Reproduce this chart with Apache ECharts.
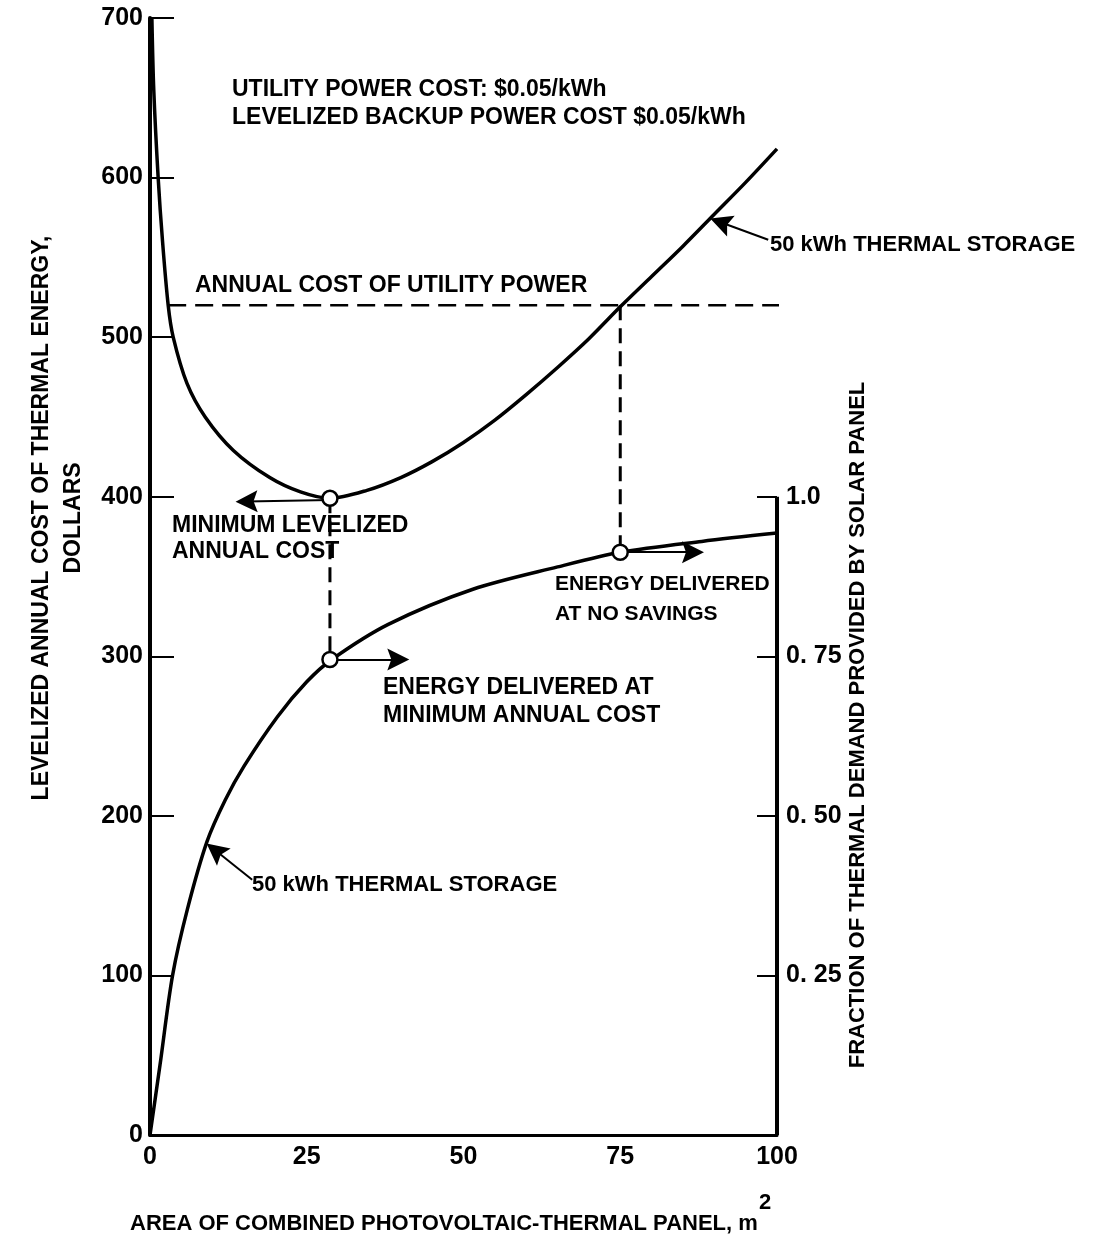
<!DOCTYPE html>
<html>
<head>
<meta charset="utf-8">
<script src="https://cdn.jsdelivr.net/npm/echarts@6/dist/echarts.min.js"></script>
<style>
  html, body { margin: 0; background: #fff; }
  #chart { width: 1099px; height: 1246px; }
</style>
</head>
<body>
<div id="chart"></div>
<script>
// axes
const areaMin = 0, areaMax = 100, areaStep = 25
const costMax = 700, costStep = 100
const fracMax = 1.75
const fracTicks = [0.25, 0.5, 0.75, 1.0]
const fracTickLabels = ['0. 25', '0. 50', '0. 75', '1.0']

// levelized annual cost, 50 kWh thermal storage (dollars vs m2)
const costArea  = [0.3, 0.6, 1.3, 2.0, 2.9, 3.7, 5.9, 8.8, 13.3, 19.1, 24, 28.7, 34.6, 40, 45, 50, 55, 60, 65, 70, 75, 80, 85, 90, 95, 100]
const costValue = [700, 655, 600, 560, 520, 500, 471, 450, 429, 412, 403, 399, 404, 412, 422, 434, 448, 464, 481, 499, 519, 538, 557, 577, 597, 618]

// fraction of thermal demand provided by solar panel
const fracArea  = [0, 1.6, 3.6, 6, 9.1, 12, 15, 20.3, 25, 29, 38, 51.5, 65, 75, 88, 100]
const fracValue = [0, 0.11, 0.25, 0.355, 0.46, 0.525, 0.578, 0.655, 0.71, 0.745, 0.80, 0.855, 0.89, 0.913, 0.93, 0.943]

// annotations
const utilityCost = 520
const utilityFrom = 2.9, utilityTo = 129
const minArea = 28.7, minCost = 399, minFrac = 0.745
const noSaveArea = 75, noSaveFrac = 0.913

// arrows [from, to]
const costArrows = [
  [[minArea, 398], [15.4, 397]],
  [[98.6, 561], [91.0, 572]]
]
const fracArrows = [
  [[minArea, minFrac], [39.6, minFrac]],
  [[noSaveArea, noSaveFrac], [86.6, noSaveFrac]],
  [[16.3, 0.40], [10.4, 0.446]]
]

const zip = (a, b) => a.map((v, i) => [v, b[i]])
const toCost = f => f * costMax / fracMax

const black = '#000'
const tickFont = { fontFamily: 'Liberation Sans', fontWeight: 'bold', fontSize: 25, color: black }
const font = size => `bold ${size}px "Liberation Sans"`
const arrowHead = 'path://M4,0L8,22L4,18L0,22Z'

const note = (text, x, y, size = 23) => ({
  type: 'text', x, y,
  style: { text, font: font(size), fill: black, textAlign: 'left', textVerticalAlign: 'middle' }
})

const dashed = (data, yAxisIndex, dash, width) => ({
  type: 'line', data, yAxisIndex, symbol: 'none', clip: false, silent: true,
  lineStyle: { color: black, width, type: dash }, z: 3
})

const option = {
  backgroundColor: '#fff',
  animation: false,
  grid: { left: 150, right: 322, top: 18, bottom: 111 },
  xAxis: {
    type: 'value', min: areaMin, max: areaMax, interval: areaStep,
    axisLine: { lineStyle: { color: black, width: 3 } },
    axisTick: { show: false },
    splitLine: { show: false },
    axisLabel: { ...tickFont, margin: 10 }
  },
  yAxis: [
    {
      type: 'value', min: 0, max: costMax, interval: costStep,
      axisLine: { show: true, lineStyle: { color: black, width: 4 } },
      axisTick: { show: true, inside: true, length: 24, lineStyle: { color: black, width: 2 } },
      splitLine: { show: false },
      axisLabel: { ...tickFont, margin: 7 }
    },
    {
      type: 'value', position: 'right', min: 0, max: fracMax, interval: 0.25,
      axisLine: { show: false },
      axisTick: { show: true, inside: true, length: 20, customValues: fracTicks, lineStyle: { color: black, width: 2 } },
      splitLine: { show: false },
      axisLabel: {
        ...tickFont, margin: 9, customValues: fracTicks,
        formatter: v => {
          const i = fracTicks.findIndex(t => Math.abs(t - v) < 1e-6)
          return i < 0 ? '' : fracTickLabels[i]
        }
      }
    }
  ],
  series: [
    {
      type: 'line', data: zip(costArea, costValue), yAxisIndex: 0, smooth: 0.3,
      symbol: 'none', lineStyle: { color: black, width: 3.5 }, z: 4
    },
    {
      type: 'line', data: zip(fracArea, fracValue), yAxisIndex: 1, smooth: 0.3,
      symbol: 'none', lineStyle: { color: black, width: 3.5 }, z: 4
    },
    // partial right axis, 0 to 1.0
    {
      type: 'line', data: [[areaMax, 0], [areaMax, 1]], yAxisIndex: 1, symbol: 'none',
      lineStyle: { color: black, width: 4 }, z: 5
    },
    dashed([[utilityFrom, utilityCost], [utilityTo, utilityCost]], 0, [18, 9], 2.5),
    dashed([[minArea, minCost], [minArea, toCost(minFrac)]], 0, [15, 8], 3),
    dashed([[noSaveArea, utilityCost], [noSaveArea, toCost(noSaveFrac)]], 0, [15, 8], 3),
    {
      type: 'lines', coordinateSystem: 'cartesian2d', yAxisIndex: 0,
      symbol: ['none', arrowHead], symbolSize: 22,
      lineStyle: { color: black, width: 2, opacity: 1 },
      data: costArrows.map(c => ({ coords: c })), z: 6
    },
    {
      type: 'lines', coordinateSystem: 'cartesian2d', yAxisIndex: 1,
      symbol: ['none', arrowHead], symbolSize: 22,
      lineStyle: { color: black, width: 2, opacity: 1 },
      data: fracArrows.map(c => ({ coords: c })), z: 6
    },
    {
      type: 'scatter', yAxisIndex: 0, data: [[minArea, minCost]], symbolSize: 15,
      itemStyle: { color: '#fff', borderColor: black, borderWidth: 2.5, opacity: 1 }, z: 10
    },
    {
      type: 'scatter', yAxisIndex: 1, data: [[minArea, minFrac], [noSaveArea, noSaveFrac]], symbolSize: 15,
      itemStyle: { color: '#fff', borderColor: black, borderWidth: 2.5, opacity: 1 }, z: 10
    }
  ],
  graphic: [
    note('UTILITY POWER COST: $0.05/kWh', 232, 90),
    note('LEVELIZED BACKUP POWER COST $0.05/kWh', 232, 118),
    note('ANNUAL COST OF UTILITY POWER', 195, 286),
    note('MINIMUM LEVELIZED', 172, 526),
    note('ANNUAL COST', 172, 552),
    note('ENERGY DELIVERED', 555, 584, 21),
    note('AT NO SAVINGS', 555, 614, 21),
    note('ENERGY DELIVERED AT', 383, 688),
    note('MINIMUM ANNUAL COST', 383, 716),
    note('50 kWh THERMAL STORAGE', 770, 245, 22),
    note('50 kWh THERMAL STORAGE', 252, 885, 22),
    {
      type: 'text', x: 58, y: 518, rotation: Math.PI / 2,
      style: {
        text: 'LEVELIZED ANNUAL COST OF THERMAL ENERGY,\nDOLLARS', font: font(23), fill: black,
        textAlign: 'center', textVerticalAlign: 'middle', lineHeight: 32
      }
    },
    {
      type: 'text', x: 858, y: 725, rotation: Math.PI / 2,
      style: {
        text: 'FRACTION OF THERMAL DEMAND PROVIDED BY SOLAR PANEL', font: font(22), fill: black,
        textAlign: 'center', textVerticalAlign: 'middle'
      }
    },
    note('AREA OF COMBINED PHOTOVOLTAIC-THERMAL PANEL, m', 130, 1224, 22),
    note('2', 759, 1203, 22)
  ]
}

const chart = echarts.init(document.getElementById('chart'))
chart.setOption(option)
</script>
</body>
</html>
